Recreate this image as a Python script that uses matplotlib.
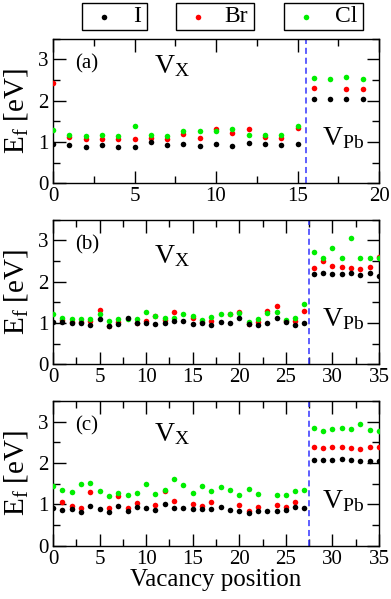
import numpy as np
import matplotlib
matplotlib.use("Agg")
import matplotlib.pyplot as plt
from matplotlib.lines import Line2D
from matplotlib.patches import Rectangle
from matplotlib.ticker import MultipleLocator

nan = np.nan

# ---- data ----
pos_a = list(range(20))
I_a = [0.95, 0.92, 0.88, 0.92, 0.89, 0.89, 1.01, 0.92, 0.94, 0.90, 0.94, 0.90, 0.98, 0.94, 0.93, 0.94,
       2.05, 2.04, 2.04, 2.04]
Br_a = [2.44, 1.11, 1.08, 1.08, 1.08, 1.08, 1.10, 1.08, 1.19, 1.10, 1.31, 1.23, 1.31, 1.11, 1.10, 1.33,
        2.31, nan, 2.28, 2.28]
Cl_a = [1.29, 1.17, 1.15, 1.17, 1.14, 1.40, 1.17, 1.15, 1.27, 1.27, 1.27, 1.31, 1.18, 1.17, 1.17, 1.38,
        2.54, 2.53, 2.57, 2.52]

pos_b = list(range(36))
I_b = [1.02, 1.02, 1.01, 1.01, 0.95, 1.10, 0.93, 0.97, 1.13, 1.01, 1.01, 0.98, 1.00, 1.06, 1.04, 0.98,
       1.01, 0.96, 1.02, 1.01, 1.13, 0.97, 0.96, 1.01, 1.11, 1.03, 0.96, 1.01,
       2.18, 2.20, 2.19, 2.19, 2.20, 2.17, 2.21, 2.15]
Br_b = [nan, 1.07, 1.03, 1.03, 1.05, 1.31, 0.93, 1.03, nan, 1.00, 1.05, 1.17, 1.07, 1.26, nan, 1.13,
        1.03, 1.05, nan, 1.23, 1.26, 0.97, 1.03, 1.29, 1.40, 1.06, 1.05, 1.29,
        2.34, 2.49, 2.37, 2.36, 2.34, 2.32, 2.36, 2.61]
Cl_b = [1.21, 1.13, 1.10, 1.09, 1.10, 1.21, 1.04, 1.09, 1.09, 1.09, 1.26, 1.18, 1.13, 1.13, 1.21, 1.18,
        1.08, 1.14, 1.21, 1.21, 1.24, 1.03, 1.09, 1.24, 1.26, 1.08, 1.13, 1.45,
        2.73, 2.57, 2.82, 2.58, 3.07, 2.57, 2.58, 2.58]

pos_c = list(range(36))
I_c = [0.91, 0.87, 0.88, 0.82, 0.96, 0.90, 0.82, 0.96, 0.84, 0.94, 0.92, 0.86, 1.01, 0.92, 0.91, 0.88,
       0.88, 0.88, 0.94, 0.87, 0.84, 0.78, 0.84, 0.85, 0.84, 0.87, 0.94, 0.92,
       2.08, 2.07, 2.08, 2.10, 2.07, 2.05, 2.06, 2.05]
Br_c = [nan, 1.07, 0.97, 0.91, 1.29, nan, 0.91, 1.20, 0.92, 1.03, nan, 0.99, 1.32, 1.09, nan, 1.00,
        0.95, 1.07, nan, nan, 0.98, 0.85, 0.94, nan, 0.99, 0.94, 1.07, nan,
        2.39, 2.36, 2.38, 2.40, 2.36, 2.34, 2.38, 2.38]
Cl_c = [1.45, 1.34, 1.29, 1.49, 1.52, 1.33, 1.20, 1.27, 1.22, 1.28, 1.49, 1.26, 1.36, 1.61, 1.46, 1.28,
        1.45, 1.32, 1.41, 1.36, 1.22, 1.37, 1.26, nan, 1.22, 1.23, 1.33, 1.36,
        2.86, 2.78, 2.82, 2.85, 2.83, 2.95, 2.81, 2.78]

panels = [
    ("(a)", pos_a, I_a, Br_a, Cl_a, 20, 15.5),
    ("(b)", pos_b, I_b, Br_b, Cl_b, 35, 27.5),
    ("(c)", pos_c, I_c, Br_c, Cl_c, 35, 27.5),
]
series_names = ["I", "Br", "Cl"]
series_colors = ["black", "#ff0000", "#00ee00"]

plt.rcParams['font.family'] = ['Liberation Serif', 'DejaVu Serif']
plt.rcParams['mathtext.fontset'] = 'custom'
plt.rcParams['mathtext.rm'] = 'Liberation Serif'
plt.rcParams['mathtext.it'] = 'Liberation Serif:italic'

W, H = 391, 599
fig = plt.figure(figsize=(W / 100, H / 100), dpi=100)

left = 53 / W
width = 326 / W
bottoms = [1 - 183.3 / H, 1 - 364.3 / H, 1 - 545.7 / H]
height = 144.5 / H

ms = 4.0
axes = []
for (lab, pos, I, Br, Cl, xmax, xsep), b in zip(panels, bottoms):
    ax = fig.add_axes([left, b, width, height])
    axes.append(ax)
    ax.plot(pos, Br, 'o', color=series_colors[1], ms=ms, mec='none', zorder=3)
    ax.plot(pos, Cl, 'o', color=series_colors[2], ms=ms, mec='none', zorder=4)
    ax.plot(pos, I, 'o', color=series_colors[0], ms=ms, mec='none', zorder=5)
    ax.axvline(xsep, color='#3333ff', ls=(0, (4, 2.5)), lw=1.1, zorder=2)
    ax.set_xlim(0, xmax)
    ax.set_ylim(0, 3.5)
    ax.xaxis.set_major_locator(MultipleLocator(5))
    ax.xaxis.set_minor_locator(MultipleLocator(2.5))
    ax.yaxis.set_major_locator(MultipleLocator(1))
    ax.yaxis.set_minor_locator(MultipleLocator(0.5))
    ax.tick_params(which='both', direction='in', top=True, right=True, labelsize=15, width=1.0)
    ax.tick_params(which='major', length=9)
    ax.tick_params(which='minor', length=5)
    ax.tick_params(axis='x', pad=3)
    ax.tick_params(axis='y', pad=3)
    for s in ax.spines.values():
        s.set_linewidth(1.0)
    ax.set_ylabel(r"E$_\mathrm{f}$ [eV]", fontsize=21)
    ax.yaxis.set_label_coords(-0.072, 0.5)
    ax.text(0.067, 0.83, lab, transform=ax.transAxes, fontsize=15, ha='left', va='center')
    vy = 0.81 if lab == "(a)" else (0.75 if lab == "(b)" else 0.77)
    ax.text(0.31, vy, r"V$_\mathrm{X}$", transform=ax.transAxes, fontsize=20, ha='left', va='center')
    ax.text(0.825, 0.31, r"V$_\mathrm{Pb}$", transform=ax.transAxes, fontsize=20, ha='left', va='center')

axes[2].set_xlabel("Vacancy position", fontsize=18, labelpad=0)

# legend: three separate framed boxes (pixel geometry from the reference)
box_x0 = [82, 176, 284]
box_x1 = [147, 254, 363]
box_y0, box_y1 = 3, 30
for name, col, x0, x1 in zip(series_names, series_colors, box_x0, box_x1):
    fig.add_artist(Rectangle((x0 / W, 1 - box_y1 / H), (x1 - x0) / W, (box_y1 - box_y0) / H,
                             transform=fig.transFigure, fill=False, edgecolor='black', lw=1.0))
    yc = 1 - (box_y0 + box_y1) / 2 / H
    fig.add_artist(Line2D([(x0 + 22) / W], [yc], transform=fig.transFigure, ls='none',
                          marker='o', color=col, ms=ms, mec='none'))
    fig.text((x1 - 6) / W, yc, name, ha='right', va='center', fontsize=17)

fig.savefig("out.png", dpi=100)
